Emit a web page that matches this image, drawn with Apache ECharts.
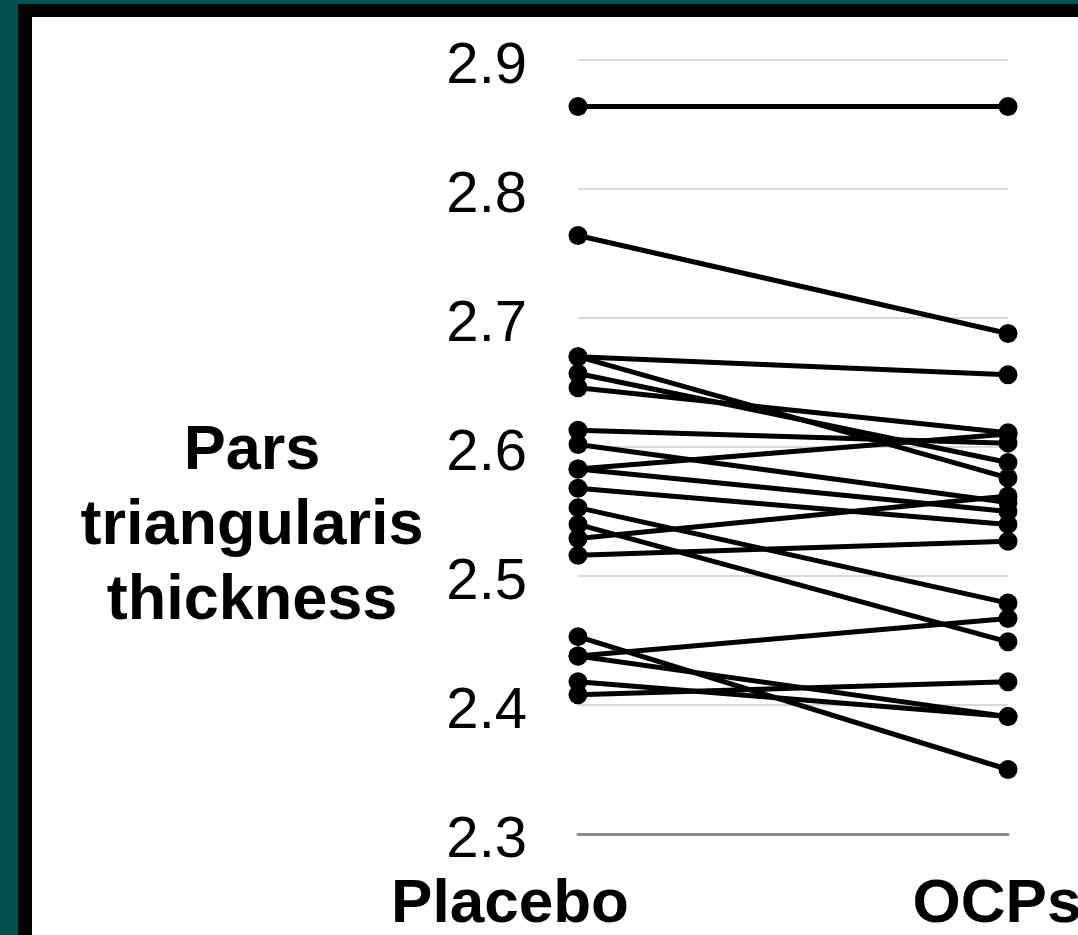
<!DOCTYPE html>
<html>
<head>
<meta charset="utf-8">
<script src="https://cdn.jsdelivr.net/npm/echarts@6/dist/echarts.min.js"></script>
<style>
  html, body { margin: 0; padding: 0; }
  body { width: 1078px; height: 935px; background: #02534f; position: relative; overflow: hidden; }
  #frame { position: absolute; left: 18px; top: 4px; right: 0; bottom: 0; background: #000; }
  #paper { position: absolute; left: 32px; top: 17px; right: 0; bottom: 0; background: #fff; }
  #chart { position: absolute; left: 0; top: 0; width: 1078px; height: 935px; }
</style>
</head>
<body>
<div id="frame"></div>
<div id="paper"></div>
<div id="chart"></div>
<script>
// paired measurements, one entry per subject
const categories = ['Placebo', 'OCPs'];
const placebo = [2.864, 2.764, 2.670, 2.670, 2.657, 2.646, 2.613, 2.602, 2.583, 2.583,
                 2.568, 2.553, 2.540, 2.529, 2.516, 2.453, 2.438, 2.438, 2.418, 2.408];
const ocps    = [2.864, 2.688, 2.656, 2.576, 2.588, 2.611, 2.603, 2.557, 2.610, 2.550,
                 2.540, 2.479, 2.449, 2.562, 2.527, 2.350, 2.467, 2.391, 2.391, 2.418];
const yTicks = [2.3, 2.4, 2.5, 2.6, 2.7, 2.8, 2.9];

const chart = echarts.init(document.getElementById('chart'), null, {renderer: 'canvas'});

const series = placebo.map((p, i) => {
  return {
    type: 'line',
    data: [p, ocps[i]],
    symbol: 'circle',
    symbolSize: 19,
    lineStyle: {color: '#000', width: 5},
    itemStyle: {color: '#000'},
    silent: true,
    animation: false
  };
});

const option = {
  animation: false,
  grid: {left: 578, right: 70, top: 60, bottom: 101, containLabel: false, outerBoundsMode: 'none'},
  xAxis: {
    type: 'category',
    data: categories,
    boundaryGap: false,
    axisLine: {show: true, lineStyle: {color: '#8c8c8c', width: 3}},
    axisTick: {show: false},
    splitLine: {show: false},
    axisLabel: {
      margin: 40,
      formatter: v => v === 'Placebo' ? '{p|' + v + '}' : '{o|' + v + '}',
      rich: {
        p: {fontFamily: 'Liberation Sans', fontWeight: 'bold', fontSize: 62, color: '#000', padding: [0, 136, 0, 0]},
        o: {fontFamily: 'Liberation Sans', fontWeight: 'bold', fontSize: 62, color: '#000', padding: [0, 22, 0, 0]}
      }
    }
  },
  yAxis: {
    type: 'value',
    min: yTicks[0],
    max: yTicks[yTicks.length - 1],
    interval: 0.1,
    axisLine: {show: false},
    axisTick: {show: false},
    splitLine: {lineStyle: {color: '#d9d9d9', width: 2}},
    axisLabel: {
      margin: 51,
      formatter: v => '{t|' + v.toFixed(1) + '}',
      rich: {
        t: {fontFamily: 'Liberation Sans', fontSize: 58, color: '#000', padding: [14, 0, 0, 0]}
      }
    }
  },
  graphic: [{
    type: 'text',
    x: 252,
    y: 527,
    style: {
      text: 'Pars\ntriangularis\nthickness',
      fontFamily: 'Liberation Sans',
      fontWeight: 'bold',
      fontSize: 63,
      lineHeight: 75,
      fill: '#000',
      align: 'center',
      verticalAlign: 'middle'
    }
  }],
  series: series
};

chart.setOption(option);
</script>
</body>
</html>
